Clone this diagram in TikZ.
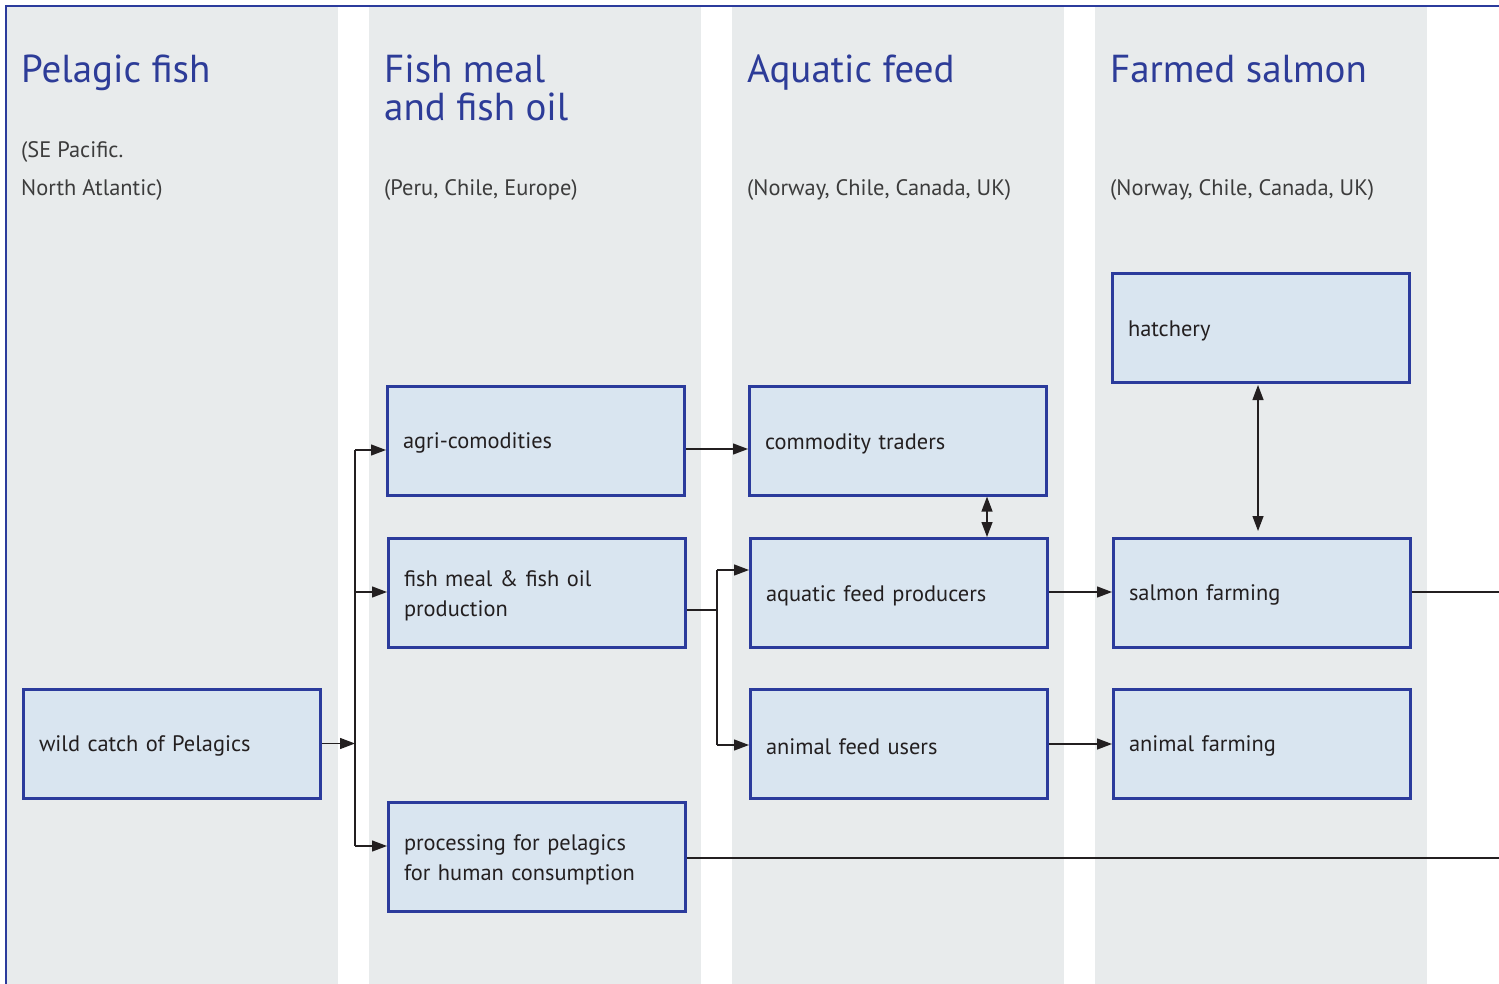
\documentclass[tikz,border=0pt]{standalone}
\usepackage{fontspec}
\setmainfont{PT Sans}
\usetikzlibrary{arrows.meta}
\definecolor{frameblue}{HTML}{2B3B9C}
\definecolor{headblue}{HTML}{2D3C98}
\definecolor{colgray}{HTML}{E8EBEC}
\definecolor{boxfill}{HTML}{D9E5F0}
\definecolor{inkdark}{HTML}{231F20}
\definecolor{subgray}{HTML}{3C3C3C}
\tikzset{
  column/.style={fill=colgray, draw=none},
  heading/.style={anchor=base west, inner sep=0pt, text=headblue, font=\fontsize{39}{38}\selectfont, align=left},
  subline/.style={anchor=base west, inner sep=0pt, text=subgray, font=\fontsize{22.4}{38}\selectfont},
  box/.style={draw=frameblue, line width=2.6pt, fill=boxfill, inner xsep=15.7pt, inner ysep=0pt,
    align=left, text=inkdark, font=\fontsize{22.4}{30}\selectfont, minimum height=109pt,
    text width=266pt, anchor=north west, execute at begin node={\rule{0pt}{21pt}}},
  link/.style={draw=inkdark, line width=1.3pt},
  arr/.style={link, -{Triangle[length=15pt,width=11pt]}},
  darr/.style={link, {Triangle[length=15pt,width=11pt]}-{Triangle[length=15pt,width=11pt]}},
}
\begin{document}
\begin{tikzpicture}[x=1pt,y=-1pt]
\useasboundingbox (0,0) rectangle (1499,984);
\fill[white] (0,0) rectangle (1499,984);

% background columns
\fill[column] (7,7) rectangle (338,984);
\fill[column] (369,7) rectangle (701,984);
\fill[column] (732,7) rectangle (1064,984);
\fill[column] (1095,7) rectangle (1427,984);

% outer frame
\draw[frameblue, line width=1.3pt] (1499,6) -- (6,6) -- (6,984);

% column headings
\node[heading] (h1) at (21,83) {Pelagic fish};
\node[heading] (h2) at (384,83) {Fish meal};
\node[heading] (h2b) at (384,121) {and fish oil};
\node[heading] (h3) at (747,83) {Aquatic feed};
\node[heading] (h4) at (1110,83) {Farmed salmon};

\node[subline] (s1) at (21,158) {(SE Pacific.};
\node[subline] (s1b) at (21,196) {North Atlantic)};
\node[subline] (s2) at (384,196) {(Peru, Chile, Europe)};
\node[subline] (s3) at (747,196) {(Norway, Chile, Canada, UK)};
\node[subline] (s4) at (1110,196) {(Norway, Chile, Canada, UK)};

% process boxes (anchored on the outer edge of the border line)
\node[box] (wild) at (22,688) {wild catch of Pelagics};
\node[box] (agri) at (386,385) {agri-comodities};
\node[box] (fmeal) at (387,537) {fish meal \& fish oil\\production};
\node[box] (proc) at (387,801) {processing for pelagics\\for human consumption};
\node[box] (trade) at (748,385) {commodity traders};
\node[box] (aqua) at (749,537) {aquatic feed producers};
\node[box] (users) at (749,688) {animal feed users};
\node[box] (hatch) at (1111,272) {hatchery};
\node[box] (salmon) at (1112,537) {salmon farming};
\node[box] (afarm) at (1112,688) {animal farming};

% distribution bus from the wild catch
\coordinate (busin) at (355,743.5);
\coordinate (bustop) at (355,450);
\coordinate (busmid) at (355,592);
\coordinate (busbot) at (355,846);
\draw[arr] (wild.east |- busin) -- (busin);
\draw[link] (bustop) -- (busbot);
\draw[arr] (bustop) -- (agri.west |- bustop);
\draw[arr] (busmid) -- (fmeal.west |- busmid);
\draw[arr] (busbot) -- (proc.west |- busbot);

% agri-commodities to traders
\coordinate (agriout) at (684,449);
\draw[arr] (agri.east |- agriout) -- (trade.west |- agriout);

% fish meal split to feed producers and feed users
\coordinate (fmbus) at (717,610);
\coordinate (fmtop) at (717,570);
\coordinate (fmbot) at (717,745);
\draw[link] (fmeal.east |- fmbus) -- (fmbus);
\draw[link] (fmtop) -- (fmbot);
\draw[arr] (fmtop) -- (aqua.west |- fmtop);
\draw[arr] (fmbot) -- (users.west |- fmbot);

% two-way links
\coordinate (tx) at (987,0);
\draw[darr] (trade.south -| tx) -- (aqua.north -| tx);
\coordinate (hxa) at (1258,385);
\coordinate (hxb) at (1258,531);
\draw[darr] (hxa) -- (hxb);

% feed to farming
\coordinate (aqout) at (1048,592);
\draw[arr] (aqua.east |- aqout) -- (salmon.west |- aqout);
\coordinate (usout) at (1048,744);
\draw[arr] (users.east |- usout) -- (afarm.west |- usout);

% outgoing lines to the right edge
\coordinate (salend) at (1499,592);
\draw[link] (salmon.east |- salend) -- (salend);
\coordinate (procend) at (1499,858);
\draw[link] (proc.east |- procend) -- (procend);
\end{tikzpicture}
\end{document}
